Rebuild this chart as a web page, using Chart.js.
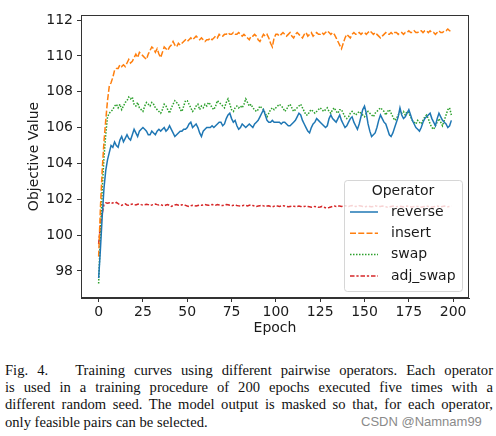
<!DOCTYPE html>
<html><head><meta charset="utf-8">
<script src="https://cdn.jsdelivr.net/npm/chart.js@4.4.0/dist/chart.umd.min.js"></script>
<style>
html,body{margin:0;padding:0;background:#fff;width:496px;height:436px;overflow:hidden;}
#wrap{position:absolute;left:0;top:0;width:496px;height:340px;}
#cap{position:absolute;left:5px;top:362px;width:488px;font-family:"Liberation Serif","Times New Roman",serif;font-size:14.6px;line-height:17.2px;color:#111;}
#cap .j{text-align:justify;text-align-last:justify;}
#wm{position:absolute;left:361px;top:414px;font-family:"Liberation Sans",Arial,sans-serif;font-size:13px;color:#8a8a8a;}
</style>
</head><body>
<div id="wrap"><canvas id="c" width="496" height="340"></canvas></div>
<div id="cap">
<div class="j">Fig. 4.&nbsp;&nbsp;&nbsp;Training curves using different pairwise operators. Each operator</div>
<div class="j">is used in a training procedure of 200 epochs executed five times with a</div>
<div class="j">different random seed. The model output is masked so that, for each operator,</div>
<div>only feasible pairs can be selected.</div>
</div>
<div id="wm">CSDN @Namnam99</div>
<script>
const epochs = Array.from({length: 200}, (_, i) => i);
const operators = ['reverse', 'insert', 'swap', 'adj_swap'];
const xTicks = [0, 25, 50, 75, 100, 125, 150, 175, 200];
const yTicks = [98, 100, 102, 104, 106, 108, 110, 112];

const reverse = [
97.6,99.2,101.0,102.6,103.6,104.2,104.6,105.0,104.9,105.2,
105.0,104.9,105.3,105.5,105.2,105.4,105.6,105.4,105.3,105.6,
105.9,105.7,105.5,105.8,105.9,106.0,105.9,105.8,105.6,105.6,
105.8,105.7,105.6,105.8,105.9,105.8,105.9,106.0,105.8,105.9,
106.1,105.9,105.7,105.5,105.6,105.7,105.8,105.8,105.9,105.9,
106.0,106.2,106.3,106.0,106.1,106.2,106.0,105.7,105.5,105.8,
105.9,106.0,106.0,106.0,106.1,106.0,106.1,106.2,106.3,106.3,
106.1,106.2,106.5,106.7,106.8,106.5,106.3,106.4,106.1,105.9,
106.0,106.2,106.1,106.0,106.1,106.2,106.1,106.0,106.2,106.3,
106.4,106.6,106.8,107.0,106.7,106.4,106.3,106.3,106.4,106.3,
106.3,106.3,106.3,106.2,106.3,106.3,106.2,106.1,106.1,106.2,
106.3,106.4,106.6,106.8,106.7,106.4,106.2,106.0,105.8,105.7,
106.0,106.2,106.3,106.5,106.4,106.3,106.2,106.1,106.0,106.1,
106.5,106.7,106.5,106.4,106.3,106.5,106.7,106.4,106.2,106.0,
106.1,106.3,106.5,106.6,106.3,106.1,105.9,106.2,106.6,107.0,
107.2,106.8,106.2,105.8,105.5,105.6,105.7,106.0,106.4,106.7,
106.5,106.3,106.2,105.9,105.6,105.5,105.7,106.0,106.3,106.6,
107.1,106.7,106.5,106.6,106.8,107.0,106.7,106.4,106.2,106.0,
105.9,105.8,106.0,106.3,106.5,106.6,106.7,106.8,106.5,106.3,
106.1,106.5,106.8,106.6,106.4,106.3,106.2,106.0,106.1,106.4
];
const insert = [
98.8,101.5,103.6,105.2,106.4,107.5,108.3,108.5,108.8,109.2,
109.3,109.3,109.5,109.4,109.5,109.4,109.6,109.8,109.6,109.7,
109.9,110.1,109.9,110.2,110.1,110.0,109.9,109.8,110.1,110.3,
110.5,110.4,110.2,110.4,110.1,109.9,110.2,110.5,110.4,110.3,
110.5,110.6,110.8,110.6,110.5,110.7,110.6,110.7,110.8,110.9,
110.8,110.9,111.0,110.9,111.0,111.1,111.0,110.9,111.0,110.9,
110.8,110.9,110.9,111.0,110.9,111.0,111.1,111.0,111.2,111.1,
111.1,111.2,111.2,111.3,111.2,111.2,111.3,111.2,111.2,111.3,
111.2,111.1,111.2,111.1,111.0,110.9,111.1,111.1,111.2,111.1,
110.9,110.8,111.0,111.2,111.1,111.2,111.0,110.7,110.5,111.0,
111.2,111.2,111.1,111.2,111.3,111.2,111.1,111.2,111.3,111.1,
111.0,111.2,111.3,111.2,111.1,111.0,111.2,111.3,111.1,111.2,
111.3,111.1,111.2,111.3,111.2,111.2,111.3,111.2,111.3,111.4,
111.3,111.2,111.3,111.2,111.0,110.8,110.6,110.4,110.7,111.0,
111.2,111.1,111.0,111.2,111.3,111.2,111.2,111.3,111.2,111.3,
111.3,111.2,111.3,111.4,111.3,111.2,111.3,111.2,111.1,111.0,
111.1,111.2,111.3,111.2,111.2,111.3,111.2,111.3,111.3,111.2,
111.3,111.3,111.2,111.3,111.3,111.4,111.3,111.3,111.4,111.3,
111.3,111.4,111.4,111.3,111.4,111.4,111.3,111.4,111.3,111.3,
111.2,111.3,111.4,111.3,111.3,111.4,111.4,111.5,111.4,111.4
];
const swap = [
97.3,100.0,102.5,104.3,105.6,106.6,106.8,106.9,107.0,107.2,
107.3,107.1,107.3,107.0,107.2,107.4,107.5,107.7,107.6,107.7,
107.3,107.2,107.4,107.1,107.0,106.9,107.2,107.4,107.3,107.2,
107.4,107.3,107.1,107.0,106.9,106.8,107.0,107.3,107.2,107.0,
106.8,107.1,107.3,107.5,107.4,107.3,107.0,106.9,107.2,107.5,
107.5,107.3,107.1,106.9,107.0,107.2,107.3,107.0,107.2,107.1,
107.3,107.2,107.4,107.3,107.1,107.0,107.2,107.5,107.4,107.3,
107.2,107.1,107.4,107.6,107.3,107.0,106.9,107.1,107.2,107.1,
107.2,107.1,107.3,107.6,107.4,107.2,107.3,107.1,107.0,106.9,
107.0,107.2,107.1,107.0,106.8,106.6,106.8,107.0,107.1,107.0,
107.1,107.2,107.3,107.2,107.1,106.9,107.0,107.2,107.3,107.1,
106.9,107.0,107.1,107.2,107.3,107.1,106.9,106.7,106.7,106.9,
107.0,106.9,106.8,106.9,107.0,107.1,107.0,106.9,107.0,107.1,
106.9,106.8,107.0,107.1,106.9,106.8,107.0,107.0,106.8,106.6,
106.5,106.6,106.8,106.9,106.8,106.7,106.8,106.9,106.8,106.7,
106.6,106.8,106.9,106.8,106.7,106.6,106.8,106.9,107.0,107.1,
107.0,106.9,106.7,106.9,107.0,106.8,106.6,106.4,106.5,106.7,
106.9,106.8,106.9,106.7,106.9,106.8,106.6,106.4,106.3,106.2,
106.4,106.3,106.2,106.4,106.6,106.7,106.5,106.2,106.0,105.9,
106.1,106.3,106.5,106.3,106.1,106.4,106.7,107.0,107.1,106.7
];
const adjSwap = [
99.5,100.6,101.2,101.7,101.8,101.78,101.8,101.76,101.8,101.78,
101.82,101.75,101.7,101.66,101.72,101.74,101.68,101.66,101.7,101.73,
101.71,101.68,101.72,101.74,101.7,101.67,101.69,101.72,101.7,101.66,
101.68,101.71,101.73,101.7,101.68,101.7,101.66,101.64,101.68,101.7,
101.66,101.6,101.64,101.68,101.7,101.67,101.65,101.69,101.7,101.66,
101.62,101.6,101.64,101.66,101.64,101.62,101.65,101.67,101.66,101.68,
101.7,101.68,101.66,101.68,101.7,101.69,101.67,101.7,101.68,101.66,
101.65,101.68,101.7,101.69,101.66,101.64,101.66,101.68,101.65,101.63,
101.62,101.64,101.66,101.65,101.63,101.66,101.68,101.65,101.62,101.6,
101.62,101.64,101.66,101.63,101.6,101.62,101.64,101.6,101.58,101.61,
101.63,101.62,101.6,101.62,101.64,101.62,101.6,101.58,101.6,101.62,
101.61,101.59,101.6,101.62,101.6,101.58,101.6,101.62,101.6,101.58,
101.56,101.58,101.6,101.58,101.55,101.57,101.6,101.56,101.53,101.52,
101.54,101.57,101.6,101.62,101.6,101.63,101.62,101.6,101.62,101.64,
101.62,101.6,101.63,101.65,101.62,101.6,101.62,101.64,101.62,101.6,
101.58,101.6,101.62,101.6,101.58,101.6,101.63,101.61,101.59,101.6,
101.62,101.6,101.58,101.56,101.58,101.6,101.62,101.6,101.58,101.6,
101.61,101.59,101.57,101.6,101.62,101.6,101.58,101.57,101.59,101.61,
101.6,101.58,101.56,101.58,101.6,101.62,101.6,101.58,101.56,101.58,
101.6,101.62,101.6,101.58,101.6,101.62,101.6,101.58,101.6,101.62
];

const seriesValues = [reverse, insert, swap, adjSwap];
const colors = ['#1f77b4', '#ff7f0e', '#2ca02c', '#d62728'];
const dashes = [[], [6, 2.25], [1.5, 1.5], [4.5, 1.875, 2.25, 1.875]];
const FONT = 'DejaVu Sans';
const TXT = '#1a1a1a';
const AX = '#333';

const framePlugin = {
  id: 'frame',
  afterDatasetsDraw(chart) {
    const {ctx, chartArea: a} = chart;
    ctx.save();
    ctx.strokeStyle = AX; ctx.lineWidth = 1;
    ctx.strokeRect(Math.round(a.left) + 0.5, Math.round(a.top) + 0.5, Math.round(a.right - a.left) - 1, Math.round(a.bottom - a.top) - 1);
    const w = 118, h = 111;
    const x0 = a.right - 7 - w, y0 = a.bottom - 7 - h;
    ctx.beginPath();
    ctx.roundRect(x0 + 0.5, y0 + 0.5, w, h, 3);
    ctx.fillStyle = 'rgba(255,255,255,0.8)';
    ctx.fill();
    ctx.strokeStyle = 'rgba(204,204,204,0.8)';
    ctx.stroke();
    ctx.font = '14px "' + FONT + '"';
    ctx.fillStyle = TXT;
    ctx.textAlign = 'center'; ctx.textBaseline = 'middle';
    ctx.fillText('Operator', x0 + w / 2, y0 + 11.5);
    ctx.textAlign = 'left';
    chart.data.datasets.forEach((ds, i) => {
      const yy = y0 + 32 + i * 21.3;
      ctx.beginPath();
      ctx.setLineDash(ds.borderDash || []);
      ctx.strokeStyle = ds.borderColor; ctx.lineWidth = 1.5;
      ctx.moveTo(x0 + 6, yy); ctx.lineTo(x0 + 34, yy);
      ctx.stroke();
      ctx.setLineDash([]);
      ctx.fillStyle = TXT;
      ctx.fillText(ds.label, x0 + 47, yy);
    });
    ctx.restore();
  }
};

new Chart(document.getElementById('c'), {
  type: 'line',
  data: {
    labels: epochs,
    datasets: operators.map((name, i) => ({
      label: name,
      data: seriesValues[i],
      borderColor: colors[i],
      backgroundColor: colors[i],
      borderWidth: 1.5,
      borderDash: dashes[i],
      pointRadius: 0,
      tension: 0,
      fill: false
    }))
  },
  options: {
    responsive: false,
    animation: false,
    layout: {padding: {top: 15, right: 27, left: 0, bottom: 0}},
    plugins: {legend: {display: false}, tooltip: {enabled: false}},
    scales: {
      x: {
        type: 'linear', min: -9.95, max: 208.95,
        afterBuildTicks: s => { s.ticks = xTicks.map(v => ({value: v})); },
        afterFit: s => { s.height = 42; },
        grid: {drawOnChartArea: false, tickLength: 4, tickColor: AX, tickWidth: 1},
        border: {display: true, color: AX, width: 1},
        ticks: {font: {family: FONT, size: 14}, color: TXT, padding: 2, maxRotation: 0, autoSkip: false},
        title: {display: true, text: 'Epoch', font: {family: FONT, size: 14}, color: TXT, padding: {top: 0, bottom: 3}}
      },
      y: {
        min: 96.49, max: 112.28,
        afterBuildTicks: s => { s.ticks = yTicks.map(v => ({value: v})); },
        afterFit: s => { s.width = 81; },
        grid: {drawOnChartArea: false, tickLength: 4, tickColor: AX, tickWidth: 1},
        border: {display: true, color: AX, width: 1},
        ticks: {font: {family: FONT, size: 14}, color: TXT, padding: 4, autoSkip: false},
        title: {display: true, text: 'Objective Value', font: {family: FONT, size: 14}, color: TXT, padding: {top: 26, bottom: 0}}
      }
    }
  },
  plugins: [framePlugin]
});
</script>
</body></html>
